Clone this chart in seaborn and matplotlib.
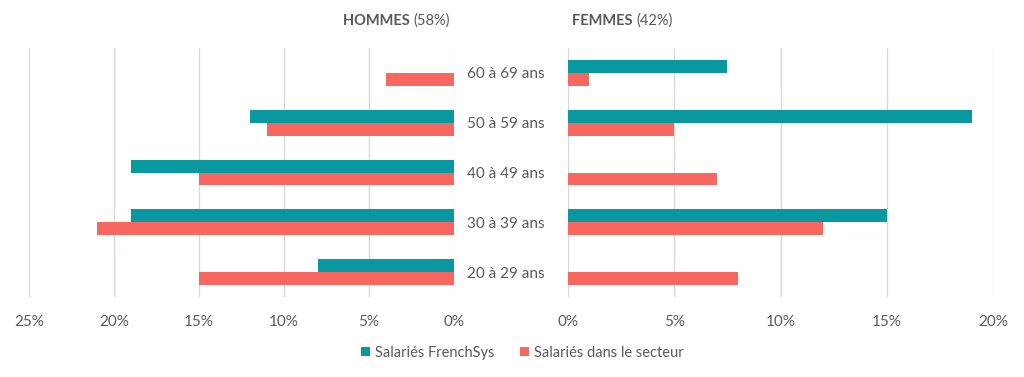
import pandas as pd
import numpy as np
import matplotlib.pyplot as plt
import seaborn as sns
from matplotlib.ticker import FuncFormatter

# Data (percent of employees)
ages = ['60 à 69 ans', '50 à 59 ans', '40 à 49 ans', '30 à 39 ans', '20 à 29 ans']
series = ['Salariés FrenchSys', 'Salariés dans le secteur']
hommes_frenchsys = [0, 12, 19, 19, 8]
hommes_secteur = [4, 11, 15, 21, 15]
femmes_frenchsys = [7.5, 19, 0, 15, 0]
femmes_secteur = [1, 5, 7, 12, 8]
titles = [('HOMMES', '(58%)'), ('FEMMES', '(42%)')]

def long_df(a, b):
    return pd.DataFrame({
        'age': ages * 2,
        'serie': [series[0]] * len(ages) + [series[1]] * len(ages),
        'val': a + b,
    })

df_h = long_df(hommes_frenchsys, hommes_secteur)
df_f = long_df(femmes_frenchsys, femmes_secteur)

sns.set_theme(style='white')
plt.rcParams['font.family'] = ['Lato', 'DejaVu Sans']
grey = '#595959'
colors = {series[0]: '#0A98A0', series[1]: '#F8675F'}

fig = plt.figure(figsize=(10.24, 3.77), dpi=100)
ax_h = fig.add_axes([29 / 1024, 1 - 297 / 377, 425 / 1024, 249 / 377])
ax_f = fig.add_axes([568 / 1024, 1 - 297 / 377, 425 / 1024, 249 / 377])

for ax, d in [(ax_h, df_h), (ax_f, df_f)]:
    sns.barplot(data=d, y='age', x='val', hue='serie', order=ages, hue_order=series,
                palette=colors, orient='h', width=0.52, saturation=1, linewidth=0,
                ax=ax, legend=(ax is ax_h))
    ax.set_xlabel('')
    ax.set_ylabel('')
    ax.grid(axis='x', color='#D9D9D9', linewidth=1)
    ax.grid(axis='y', visible=False)
    ax.set_axisbelow(True)
    for s in ax.spines.values():
        s.set_visible(False)
    ax.xaxis.set_major_formatter(FuncFormatter(lambda v, p: f'{v:.0f}%'))
    ax.tick_params(axis='x', length=0, colors=grey, labelsize=11, pad=13)
    ax.set_ylim(4.5, -0.5)

ax_h.set_xlim(25, 0)
ax_h.set_xticks([25, 20, 15, 10, 5, 0])
ax_f.set_xlim(0, 20)
ax_f.set_xticks([0, 5, 10, 15, 20])

# age labels in the middle
ax_h.yaxis.tick_right()
ax_h.tick_params(axis='y', length=0, colors=grey, labelsize=11, pad=37)
for lbl in ax_h.get_yticklabels():
    lbl.set_ha('center')
ax_f.set_yticks([])

# titles
t = ax_h.text(0.99, 1.11, titles[0][1], transform=ax_h.transAxes, ha='right', va='center',
              color=grey, fontsize=10.5)
ax_h.annotate(titles[0][0] + ' ', xy=(0, 0.5), xycoords=t, ha='right', va='center',
              color=grey, fontsize=10.5, fontweight='bold')
t2 = ax_f.text(0.01, 1.11, titles[1][0] + ' ', transform=ax_f.transAxes, ha='left', va='center',
               color=grey, fontsize=10.5, fontweight='bold')
ax_f.annotate(titles[1][1], xy=(1, 0.5), xycoords=t2, ha='left', va='center',
              color=grey, fontsize=10.5)

# legend
handles, labels = ax_h.get_legend_handles_labels()
ax_h.get_legend().remove()
fig.legend(handles, labels, loc='center', bbox_to_anchor=(0.51, 1 - 353 / 377), ncol=2,
           frameon=False, fontsize=10.5, labelcolor=grey, handlelength=0.6, handleheight=0.6,
           handletextpad=0.35, columnspacing=1.8)

fig.savefig('out.png', dpi=100)
